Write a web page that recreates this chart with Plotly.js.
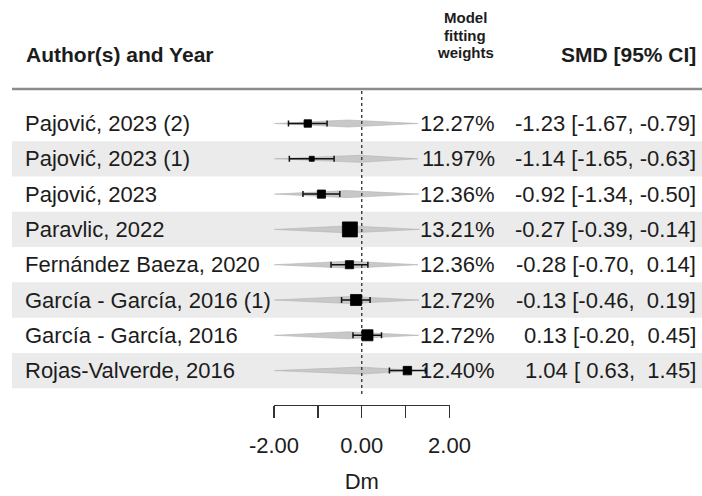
<!DOCTYPE html>
<html>
<head>
<meta charset="utf-8">
<script src="https://cdn.plot.ly/plotly-3.0.1.min.js"></script>
<style>
  html, body { margin: 0; padding: 0; background: #fff; }
  #forest { width: 702px; height: 496px; }
</style>
</head>
<body>
<div id="forest"></div>
<script>
// Study rows, top to bottom
const studies = [
  'Pajović, 2023 (2)',
  'Pajović, 2023 (1)',
  'Pajović, 2023',
  'Paravlic, 2022',
  'Fernández Baeza, 2020',
  'García - García, 2016 (1)',
  'García - García, 2016',
  'Rojas-Valverde, 2016'
];
const smd     = [-1.23, -1.14, -0.92, -0.27, -0.28, -0.13, 0.13, 1.04];
const ciLow   = [-1.67, -1.65, -1.34, -0.39, -0.70, -0.46, -0.20, 0.63];
const ciHigh  = [-0.79, -0.63, -0.50, -0.14, 0.14, 0.19, 0.45, 1.45];
const weights = [12.27, 11.97, 12.36, 13.21, 12.36, 12.72, 12.72, 12.40];

// Model-fit interval drawn as a grey diamond behind each study
const fitLow  = [-1.99, -1.99, -1.99, -1.99, -1.99, -1.99, -1.99, -1.99];
const fitMid  = [-0.31, -0.04, -0.35, -0.30, -0.27, -0.28, -0.31, -0.04];
const fitHigh = [1.28, 1.28, 1.30, 1.32, 1.28, 1.30, 1.30, 1.28];

// Axis ticks
const tickVals   = [-2, 0, 2];
const tickLabels = ['-2.00', '0.00', '2.00'];
const minorVals  = [-1, 1];

const FONT = 'Liberation Sans, Arial, Helvetica, sans-serif';
const INK = '#1c1c1c';
const W = 702, H = 496;
const rowIdx = studies.map((_, i) => i);
const half = 0.1; // diamond half height (row units)

const fmtSigned = v => (v < 0 ? '-' : '\u00a0') + Math.abs(v).toFixed(2);
const ciText = smd.map((v, i) =>
  v.toFixed(2) + ' [' + fmtSigned(ciLow[i]) + ', ' + fmtSigned(ciHigh[i]) + ']');

const wMin = Math.min(...weights), wMax = Math.max(...weights);
const boxSize = weights.map(w => 5 + (w - wMin) / (wMax - wMin) * 10);

const traces = [];

// grey diamonds
rowIdx.forEach(i => {
  traces.push({
    type: 'scatter', mode: 'lines',
    x: [fitLow[i], fitMid[i], fitHigh[i], fitMid[i], fitLow[i]],
    y: [i, i - half, i, i + half, i],
    fill: 'toself', fillcolor: '#c8c8c8',
    line: { color: '#b4b4b4', width: 0.6 },
    hoverinfo: 'skip', showlegend: false
  });
});

// reference line at zero
traces.push({
  type: 'scatter', mode: 'lines',
  x: [0, 0], y: [-0.92, 7.72],
  line: { color: '#3a3a3a', width: 1.4, dash: 'dot' },
  hoverinfo: 'skip', showlegend: false
});

// study estimates with confidence intervals
traces.push({
  type: 'scatter', mode: 'markers',
  x: smd, y: rowIdx,
  marker: { symbol: 'square', color: '#000', opacity: 1, size: boxSize, line: { color: '#000', width: 0.8 } },
  error_x: {
    type: 'data', symmetric: false,
    array: smd.map((v, i) => ciHigh[i] - v),
    arrayminus: smd.map((v, i) => v - ciLow[i]),
    color: '#111', thickness: 1.5, width: 3
  },
  hoverinfo: 'skip', showlegend: false
});

const rowTop = 123.5, rowStep = 35.3;
const px2row = p => (p - rowTop) / rowStep;
const py = p => 1 - p / H;

const shapes = [];
rowIdx.forEach(i => {
  if (i % 2 === 1) {
    shapes.push({
      type: 'rect', layer: 'below', xref: 'paper', yref: 'y',
      x0: 12 / W, x1: 1, y0: i - 0.5, y1: i + 0.5,
      fillcolor: '#ebebeb', line: { width: 0 }
    });
  }
});
shapes.push({
  type: 'line', xref: 'paper', yref: 'paper',
  x0: 12 / W, x1: 1, y0: py(89), y1: py(89),
  line: { color: '#8c8c8c', width: 2.5 }
});

const annotations = [];
const txt = (text, x, y, anchor, size, bold, yref) => ({
  text: text, xref: 'paper', yref: yref || 'paper', x: x, y: y,
  xanchor: anchor, yanchor: 'middle', showarrow: false,
  font: { family: FONT, size: size, color: INK, weight: bold ? 'bold' : 'normal' }
});

annotations.push(txt('Author(s) and Year', 24 / W, py(55), 'left', 21, true));
annotations.push(txt('SMD [95% CI]', 698 / W, py(55), 'right', 21, true));
['Model', 'fitting', 'weights'].forEach((line, j) => {
  annotations.push(txt(line, 465 / W, py(18 + j * 17), 'center', 15, true));
});

rowIdx.forEach(i => {
  annotations.push(txt(studies[i], 23 / W, i, 'left', 22, false, 'y'));
  annotations.push(txt(weights[i].toFixed(2) + '%', 497 / W, i, 'right', 22, false, 'y'));
  annotations.push(txt(ciText[i], 698 / W, i, 'right', 22, false, 'y'));
});

const layout = {
  width: W, height: H,
  margin: { l: 0, r: 0, t: 0, b: 0 },
  paper_bgcolor: '#fff', plot_bgcolor: 'rgba(0,0,0,0)',
  showlegend: false,
  xaxis: {
    domain: [274 / W, 449.5 / W],
    range: [-2, 2],
    anchor: 'free', position: py(405), side: 'bottom',
    showline: true, linecolor: '#333', linewidth: 1.4,
    showgrid: false, zeroline: false,
    tickmode: 'array', tickvals: tickVals, ticktext: tickLabels,
    ticks: 'outside', ticklen: 12, tickwidth: 1.4, tickcolor: '#333',
    minor: { tickvals: minorVals, ticks: 'outside', ticklen: 12, tickwidth: 1.4, tickcolor: '#333', showgrid: false },
    tickfont: { family: FONT, size: 22, color: INK },
    ticklabelstandoff: 8,
    title: { text: 'Dm', font: { family: FONT, size: 22, color: INK }, standoff: 17 },
    automargin: false, fixedrange: true
  },
  yaxis: {
    domain: [0, 1],
    range: [px2row(H), px2row(0)],
    visible: false, showgrid: false, zeroline: false, fixedrange: true
  },
  shapes: shapes,
  annotations: annotations
};

Plotly.newPlot('forest', traces, layout, { staticPlot: true, displayModeBar: false });
</script>
</body>
</html>
